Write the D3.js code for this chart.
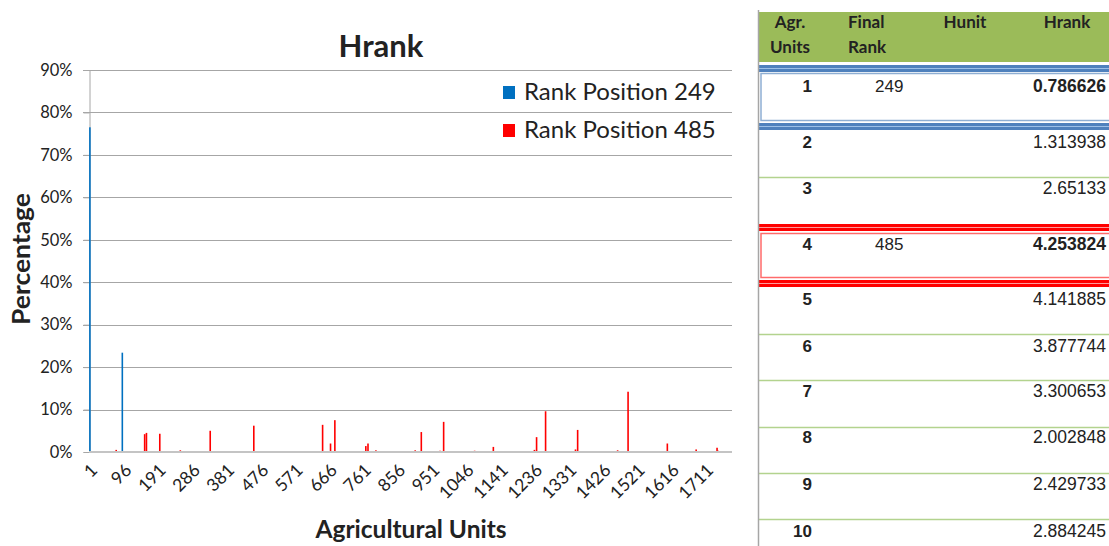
<!DOCTYPE html>
<meta charset="utf-8">
<head>
  <title>Hrank</title>
</head>
<style>
body { margin: 0; background: #fff; }
svg { display: block; }
.chart text { font-family: Lato, "Open Sans", sans-serif; fill: #222; }
.tbl text { font-family: "Liberation Sans", Arial, sans-serif; fill: #222; }
.tbl .hdr { font-family: Lato, sans-serif; font-weight: bold; font-size: 17px; }
</style>
<body>
<svg width="1109" height="546"></svg>

<script src="https://cdnjs.cloudflare.com/ajax/libs/d3/7.8.5/d3.min.js"></script>
<script>
var width = 1109, height = 546

// ---- chart data ----
var numUnits = 1785
var tickUnits = d3.range(1, 1712, 95)
var yTicks = [0, 10, 20, 30, 40, 50, 60, 70, 80, 90]

var blueUnits = [3, 93]
var blueValues = [76.5, 23.4]

var redUnits = [76, 155, 160, 197, 254, 337, 458, 649, 671, 683, 769, 775, 797, 906, 923,
  975, 985, 1071, 1123, 1237, 1243, 1268, 1351, 1357, 1468, 1497, 1606, 1686, 1744, 1747]
var redValues = [0.5, 4.2, 4.5, 4.3, 0.4, 5.0, 6.2, 6.4, 2.0, 7.5, 1.4, 2.0, 0.4, 0.4, 4.7,
  0.3, 7.1, 0.3, 1.2, 0.5, 3.5, 9.6, 0.6, 5.2, 0.4, 14.2, 2.0, 0.6, 1.0, 0.3]

var legendLabels = ['Rank Position 249', 'Rank Position 485']
var colors = ['#0070c0', '#ff0000']

// ---- table data ----
var tblUnits = ['1', '2', '3', '4', '5', '6', '7', '8', '9', '10']
var tblFinalRank = ['249', '', '', '485', '', '', '', '', '', '']
var tblHrank = ['0.786626', '1.313938', '2.65133', '4.253824', '4.141885', '3.877744',
  '3.300653', '2.002848', '2.429733', '2.884245']

var svg = d3.select('svg')
var chart = svg.append('g').attr('class', 'chart')

var x = d3.scaleBand()
  .domain(d3.range(1, numUnits + 1))
  .range([89, 732])

var y = d3.scaleLinear()
  .domain([0, 90])
  .range([452, 70])

// gridlines
chart.append('g')
  .selectAll('line')
  .data(yTicks.slice(1))
  .enter().append('line')
  .attr('x1', 83).attr('x2', 732)
  .attr('y1', function(d) { return Math.round(y(d)) + 0.5 })
  .attr('y2', function(d) { return Math.round(y(d)) + 0.5 })
  .attr('stroke', '#a6a6a6')
  .attr('stroke-width', 1)

// y axis
var yAxis = chart.append('g')
  .attr('transform', 'translate(89.5,0)')
  .call(d3.axisLeft(y).tickValues(yTicks).tickSize(6).tickFormat(function(d) { return d + '%' }))
yAxis.select('.domain').attr('stroke', '#a6a6a6')
yAxis.selectAll('.tick line').attr('stroke', '#a6a6a6')
yAxis.selectAll('.tick text')
  .attr('x', -17)
  .style('font-size', '16.5px')
  .style('font-family', 'Lato, sans-serif')
  .attr('fill', '#222')

// bars
function drawBars(units, values, color) {
  var data = units.map(function(u, i) { return {u: u, v: values[i]} })
  chart.append('g')
    .selectAll('rect')
    .data(data)
    .enter().append('rect')
    .attr('x', function(d) { return x(d.u) + x.bandwidth() / 2 - 0.8 })
    .attr('width', 1.6)
    .attr('y', function(d) { return y(d.v) })
    .attr('height', function(d) { return y(0) - y(d.v) })
    .attr('fill', color)
}
drawBars(redUnits, redValues, colors[1])
drawBars(blueUnits, blueValues, colors[0])

// baseline
chart.append('line')
  .attr('x1', 89).attr('x2', 732)
  .attr('y1', y(0)).attr('y2', y(0))
  .attr('stroke', '#c4c4c4')
  .attr('stroke-width', 2)

// x tick labels
chart.append('g')
  .selectAll('text')
  .data(tickUnits)
  .enter().append('text')
  .attr('transform', function(d) {
    return 'translate(' + (x(d) + x.bandwidth() / 2 + 5) + ',467) rotate(-45)'
  })
  .attr('text-anchor', 'end')
  .attr('dy', '0.35em')
  .style('font-size', '17.5px')
  .text(function(d) { return d })

// titles
chart.append('text')
  .attr('x', 381).attr('y', 57)
  .attr('text-anchor', 'middle')
  .style('font-size', '31px').style('font-weight', 'bold')
  .text('Hrank')

chart.append('text')
  .attr('transform', 'translate(30,259) rotate(-90)')
  .attr('text-anchor', 'middle')
  .attr('textLength', 132)
  .attr('lengthAdjust', 'spacingAndGlyphs')
  .style('font-size', '24px').style('font-weight', 'bold')
  .text('Percentage')

chart.append('text')
  .attr('x', 411).attr('y', 538)
  .attr('text-anchor', 'middle')
  .style('font-size', '24.5px').style('font-weight', 'bold')
  .text('Agricultural Units')

// legend
var leg = chart.append('g')
  .selectAll('g')
  .data(legendLabels)
  .enter().append('g')
  .attr('transform', function(d, i) { return 'translate(503,' + (86 + i * 38) + ')' })
leg.append('rect')
  .attr('width', 12).attr('height', 13)
  .attr('fill', function(d, i) { return colors[i] })
leg.append('text')
  .attr('x', 21).attr('y', 14)
  .style('font-size', '24px')
  .text(function(d) { return d })

// ---- table ----
var tbl = svg.append('g').attr('class', 'tbl')
var tx0 = 758, tx1 = 1109

tbl.append('rect')
  .attr('x', tx0).attr('y', 12)
  .attr('width', tx1 - tx0).attr('height', 50)
  .attr('fill', '#9bbb59')

var headers = [
  {lines: ['Agr.', 'Units'], x: 790, anchor: 'middle'},
  {lines: ['Final', 'Rank'], x: 848, anchor: 'start'},
  {lines: ['Hunit'], x: 965, anchor: 'middle'},
  {lines: ['Hrank'], x: 1067, anchor: 'middle'}
]
headers.forEach(function(h) {
  h.lines.forEach(function(l, i) {
    tbl.append('text')
      .attr('class', 'hdr')
      .attr('x', h.x).attr('y', 28 + i * 25)
      .attr('text-anchor', h.anchor)
      .text(l)
  })
})

// highlight bands
function band(yy, dark, light) {
  tbl.append('rect').attr('x', tx0).attr('y', yy).attr('width', tx1 - tx0).attr('height', 7).attr('fill', dark)
  tbl.append('rect').attr('x', tx0).attr('y', yy + 3).attr('width', tx1 - tx0).attr('height', 1).attr('fill', light)
}
band(65, '#4f81bd', '#9cc0e8')
band(123, '#4f81bd', '#9cc0e8')
band(224, '#ff0000', '#ff9a9a')
band(280, '#ff0000', '#ff9a9a')

tbl.append('rect')
  .attr('x', 761).attr('y', 73.5).attr('width', 352).attr('height', 47)
  .attr('fill', 'none').attr('stroke', '#8eaed3').attr('stroke-width', 1.5)
tbl.append('rect')
  .attr('x', 761).attr('y', 233.5).attr('width', 352).attr('height', 44)
  .attr('fill', 'none').attr('stroke', '#ff6b6b').attr('stroke-width', 1.5)

// green row separators
var sepY = [177, 334, 380, 427, 473, 519]
tbl.selectAll('line.sep')
  .data(sepY)
  .enter().append('line')
  .attr('x1', tx0).attr('x2', tx1)
  .attr('y1', function(d) { return d + 0.5 }).attr('y2', function(d) { return d + 0.5 })
  .attr('stroke', '#b3d38e').attr('stroke-width', 1.5)

// left border
tbl.append('line')
  .attr('x1', tx0 + 0.5).attr('x2', tx0 + 0.5)
  .attr('y1', 10).attr('y2', 546)
  .attr('stroke', '#a6a6a6').attr('stroke-width', 1.5)

var rowBase = [92, 148, 194, 250, 305, 352, 397, 443, 490, 537]
var rows = tbl.selectAll('g.row')
  .data(tblUnits)
  .enter().append('g')
  .attr('transform', function(d, i) { return 'translate(0,' + rowBase[i] + ')' })

rows.append('text')
  .attr('x', 812).attr('text-anchor', 'end')
  .style('font-size', '17px').style('font-weight', 'bold')
  .text(function(d) { return d })

rows.append('text')
  .attr('x', 875)
  .style('font-size', '17px')
  .text(function(d, i) { return tblFinalRank[i] })

rows.append('text')
  .attr('x', 1106).attr('text-anchor', 'end')
  .style('font-size', '17.5px')
  .style('font-weight', function(d, i) { return tblFinalRank[i] ? 'bold' : 'normal' })
  .text(function(d, i) { return tblHrank[i] })
</script>
</body>
